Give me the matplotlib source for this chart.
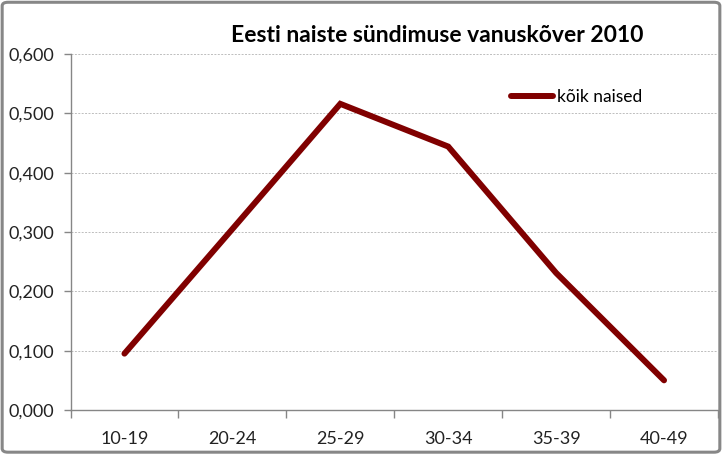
import matplotlib
matplotlib.use("Agg")
import matplotlib.pyplot as plt
from matplotlib.patches import FancyBboxPatch
from matplotlib.ticker import FixedLocator, FuncFormatter

# andmed
age_groups = ['10-19', '20-24', '25-29', '30-34', '35-39', '40-49']
all_women = [0.095, 0.305, 0.516, 0.444, 0.231, 0.050]
y_ticks = [0.0, 0.1, 0.2, 0.3, 0.4, 0.5, 0.6]

plt.rcParams['font.family'] = ['Lato', 'DejaVu Sans']

fig = plt.figure(figsize=(7.22, 4.54), dpi=100)
ax = fig.add_axes([70.5 / 722, 44 / 454, (718 - 70.5) / 722, (410 - 54) / 454])

x = list(range(len(age_groups)))
ax.plot(x, all_women, color='#800000', linewidth=4.3, solid_capstyle='round',
        solid_joinstyle='miter', label='kõik naised')

ax.set_xlim(-0.5, len(age_groups) - 0.5)
ax.set_ylim(0, 0.6)
ax.set_yticks(y_ticks)
ax.yaxis.set_major_formatter(FuncFormatter(lambda v, p: f'{v:.3f}'.replace('.', ',')))
ax.set_xticks(x)
ax.set_xticklabels(age_groups)
ax.xaxis.set_minor_locator(FixedLocator([i - 0.5 for i in range(len(age_groups) + 1)]))

ax.grid(axis='y', color='#bdbdbd', linestyle=(0, (2, 1.5)), linewidth=0.7)
ax.set_axisbelow(True)
for s in ['top', 'right']:
    ax.spines[s].set_visible(False)
for s in ['left', 'bottom']:
    ax.spines[s].set_color('#868686')
    ax.spines[s].set_linewidth(1.0)

ax.tick_params(axis='y', direction='out', length=5, width=1, color='#868686',
               pad=7, labelsize=13, labelcolor='#222222')
ax.tick_params(axis='x', which='major', length=0, pad=15, labelsize=13,
               labelcolor='#222222')
ax.tick_params(axis='x', which='minor', direction='out', length=6, width=1,
               color='#868686')

fig.text(437 / 722, 1 - 35 / 454, 'Eesti naiste sündimuse vanuskõver 2010',
         ha='center', va='center', fontsize=16.5, fontweight='bold')

ax.legend(loc='center left', bbox_to_anchor=(511 / 722, 1 - 97 / 454),
          bbox_transform=fig.transFigure, frameon=False, fontsize=12.5,
          handlelength=2.4, handletextpad=0.25, borderpad=0, borderaxespad=0)

border = FancyBboxPatch((0.003, 0.004), 0.994, 0.991, boxstyle='round,pad=0,rounding_size=0.008',
                        transform=fig.transFigure, facecolor='none',
                        edgecolor='#878787', linewidth=2.2)
fig.patches.append(border)

fig.savefig('out.png', dpi=100)
